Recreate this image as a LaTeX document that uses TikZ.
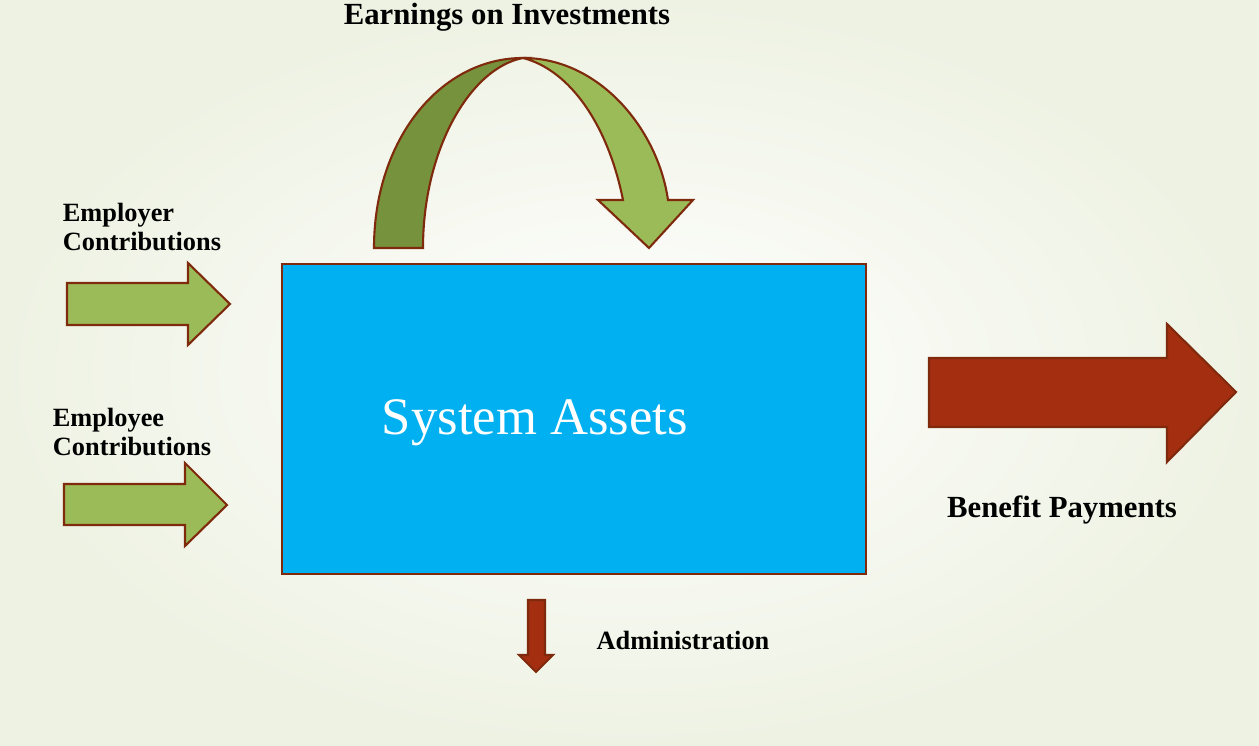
\documentclass[tikz,border=0pt]{standalone}
\usepackage{fontspec}
\setmainfont{Liberation Serif}
\usepackage{tikz}

\definecolor{olive}{HTML}{9BBB59}
\definecolor{darkolive}{HTML}{76923C}
\definecolor{rust}{HTML}{A32E10}
\definecolor{edge}{HTML}{7F2A0C}
\definecolor{assetblue}{HTML}{00B0F0}
\definecolor{bgout}{HTML}{EEF2E3}

\begin{document}
\begin{tikzpicture}[x=0.02cm, y=-0.02cm,
    greenarrow/.style={fill=olive, draw=edge, line width=1.2pt, line join=miter},
    redarrow/.style={fill=rust, draw=edge, line width=1.2pt, line join=miter},
    lbl/.style={font=\bfseries\fontsize{15}{16.5}\selectfont, align=left, inner sep=0pt}]
    \shade[inner color=white, outer color=bgout] (0,0) rectangle (1259,746);
    \useasboundingbox (0,0) rectangle (1259,746);

    \node[fill=assetblue, draw=edge, line width=1.2pt, minimum width=11.68cm, minimum height=6.2cm, inner sep=0pt] (assets) at (574,419) {};
    \node[text=white, font=\fontsize{30}{34}\selectfont] (title) at (535,423) {System Assets};

    \draw[greenarrow] (67,283) -- (188,283) -- (188,263) -- (230,304) -- (188,345) -- (188,325) -- (67,325) -- cycle;
    \draw[greenarrow] (64,484) -- (185,484) -- (185,463) -- (227,505) -- (185,546) -- (185,525) -- (64,525) -- cycle;
    \draw[redarrow] (929,358) -- (1167,358) -- (1167,324) -- (1236,392) -- (1167,462) -- (1167,427) -- (929,427) -- cycle;
    \draw[redarrow] (528,600) -- (545,600) -- (545,655) -- (553,655) -- (536,672) -- (519,655) -- (528,655) -- cycle;

    \draw[greenarrow, fill=darkolive] (374,248) .. controls (374,140) and (440,58) .. (523,58)
        .. controls (470,68) and (423,150) .. (423,248) -- cycle;
    \draw[greenarrow] (523,58) .. controls (600,58) and (658,130) .. (668,200) -- (693,200) -- (649,248)
        -- (598,200) -- (623,200) .. controls (608,125) and (570,70) .. (523,58);

    \node[lbl] (employer) at (142,227) {Employer\\Contributions};
    \node[lbl] (employee) at (132,432) {Employee\\Contributions};
    \node[lbl, font=\bfseries\fontsize{17.5}{20}\selectfont] (earnings) at (507,17) {Earnings on Investments};
    \node[lbl, font=\bfseries\fontsize{17.5}{20}\selectfont] (benefit) at (1062,510) {Benefit Payments};
    \node[lbl] (admin) at (683,640) {Administration};
\end{tikzpicture}
\end{document}
